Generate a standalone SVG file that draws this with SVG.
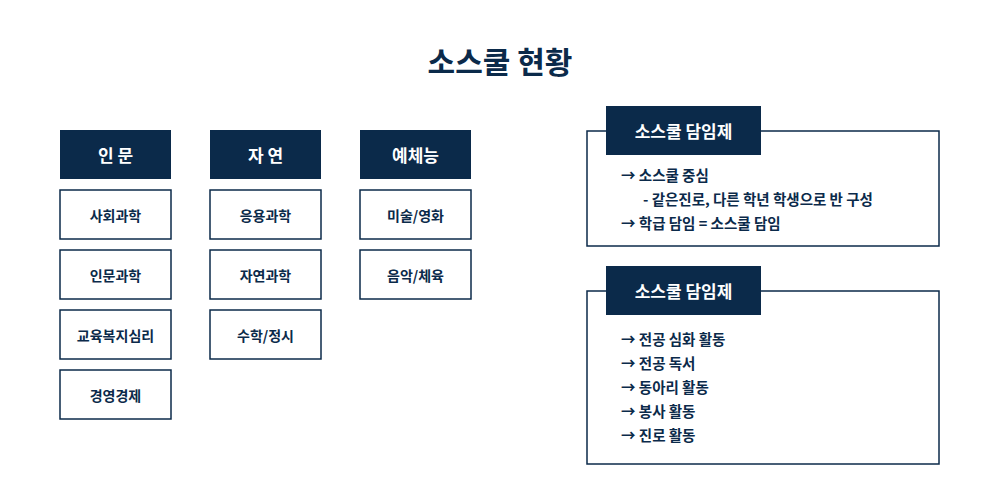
<svg xmlns="http://www.w3.org/2000/svg" width="1000" height="500" viewBox="0 0 1000 500">
<style>
text{font-family:"Noto Sans CJK KR","Noto Sans",sans-serif;font-weight:bold;fill:#0b2a4a}
.h{fill:#0b2a4a}
.ht{fill:#fff;font-size:17px;text-anchor:middle;dominant-baseline:central}
.b{fill:#fff;stroke:#0b2a4a;stroke-width:1.5}
.bt{font-size:14px;text-anchor:middle;dominant-baseline:central}
.l{font-size:14.5px;dominant-baseline:central}
</style>
<rect width="1000" height="500" fill="#fff"/>
<text x="500" y="60" font-size="30" text-anchor="middle" dominant-baseline="central">소스쿨 현황</text>
<g id="col1">
<rect class="h" x="60" y="130" width="111" height="49"/><text class="ht" x="115.5" y="154.5">인 문</text>
<rect class="b" x="60" y="190" width="111" height="49"/><text class="bt" x="115.5" y="214.5">사회과학</text>
<rect class="b" x="60" y="250" width="111" height="49"/><text class="bt" x="115.5" y="274.5">인문과학</text>
<rect class="b" x="60" y="310" width="111" height="49"/><text class="bt" x="115.5" y="334.5">교육복지심리</text>
<rect class="b" x="60" y="370" width="111" height="49"/><text class="bt" x="115.5" y="394.5">경영경제</text>
</g>
<g id="col2">
<rect class="h" x="210" y="130" width="111" height="49"/><text class="ht" x="265.5" y="154.5">자 연</text>
<rect class="b" x="210" y="190" width="111" height="49"/><text class="bt" x="265.5" y="214.5">응용과학</text>
<rect class="b" x="210" y="250" width="111" height="49"/><text class="bt" x="265.5" y="274.5">자연과학</text>
<rect class="b" x="210" y="310" width="111" height="49"/><text class="bt" x="265.5" y="334.5">수학/정시</text>
</g>
<g id="col3">
<rect class="h" x="360" y="130" width="111" height="49"/><text class="ht" x="415.5" y="154.5">예체능</text>
<rect class="b" x="360" y="190" width="111" height="49"/><text class="bt" x="415.5" y="214.5">미술/영화</text>
<rect class="b" x="360" y="250" width="111" height="49"/><text class="bt" x="415.5" y="274.5">음악/체육</text>
</g>
<g id="panel1">
<rect class="b" x="587" y="131" width="352" height="115"/>
<rect class="h" x="606" y="106" width="155" height="49"/><text class="ht" x="683.5" y="130.5">소스쿨 담임제</text>
<text class="l" x="621" y="174">→ 소스쿨 중심</text>
<text class="l" x="643" y="198">- 같은진로, 다른 학년 학생으로 반 구성</text>
<text class="l" x="621" y="222">→ 학급 담임 = 소스쿨 담임</text>
</g>
<g id="panel2">
<rect class="b" x="587" y="291" width="352" height="173"/>
<rect class="h" x="606" y="266" width="155" height="49"/><text class="ht" x="683.5" y="290.5">소스쿨 담임제</text>
<text class="l" x="621" y="338">→ 전공 심화 활동</text>
<text class="l" x="621" y="362">→ 전공 독서</text>
<text class="l" x="621" y="386">→ 동아리 활동</text>
<text class="l" x="621" y="410">→ 봉사 활동</text>
<text class="l" x="621" y="434">→ 진로 활동</text>
</g>
<g id="connectors"/>
</svg>
